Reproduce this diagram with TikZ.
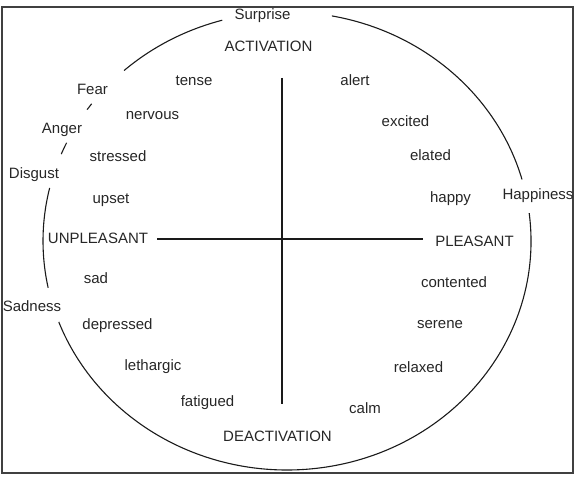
\documentclass[tikz,border=0pt]{standalone}
\usepackage{fontspec}
\setmainfont{Liberation Sans}
\usepackage{xcolor}
\usepackage{tikz}
\usetikzlibrary{positioning}
\definecolor{txtGray}{HTML}{262626}
\definecolor{lineGray}{HTML}{1A1A1A}

\begin{document}
\begin{tikzpicture}[x=1pt,y=1pt,
  word/.style={inner sep=0pt,anchor=base,text=txtGray,font=\fontsize{15}{18}\selectfont},
  emo/.style={word},
  axislab/.style={word},
  ring/.style={draw=lineGray,line width=1.1pt},
  axisline/.style={draw=lineGray,line width=1.1pt}]
  \useasboundingbox (0,0) rectangle (577,476);
  \draw[line width=1.6pt,draw=black!75] (2,3) rectangle (573,469);
  \coordinate (c) at (287,235);
  % the circle, broken at the basic emotions
  \foreach \a/\b in {79.4/15.6, 7/-159.3, 191.8/166.6, 157.7/154.6, 145/143.2, 131.9/105.4}
    \draw[ring] (c) ++(\a:244 and 229) arc[start angle=\a, end angle=\b, x radius=244, y radius=229];
  % axes
  \node[axislab] (act) at (268.5,424) {ACTIVATION};
  \node[axislab] (deact) at (277.5,35) {DEACTIVATION};
  \node[axislab] (unpl) at (98,232) {UNPLEASANT};
  \node[axislab] (pl) at (474.5,229) {PLEASANT};
  \coordinate (n) at (282,398);
  \coordinate (s) at (282,72);
  \coordinate (w) at (157,237);
  \coordinate (e) at (423,237);
  \draw[axisline] (n) -- (s);
  \draw[axisline] (w) -- (e);
  % basic emotions on the circle
  \node[emo] (surprise) at (262.5,456) {Surprise};
  \node[emo] (fear) at (92.5,381) {Fear};
  \node[emo] (anger) at (62,342) {Anger};
  \node[emo] (disgust) at (34,297) {Disgust};
  \node[emo] (sadness) at (32,164) {Sadness};
  \node[emo] (happiness) at (538,276) {Happiness};
  % moods
  \node[word] (tense) at (194,390) {tense};
  \node[word] (nervous) at (152.5,356) {nervous};
  \node[word] (stressed) at (118,314) {stressed};
  \node[word] (upset) at (111,272) {upset};
  \node[word] (sad) at (96,192) {sad};
  \node[word] (depressed) at (117.5,146) {depressed};
  \node[word] (lethargic) at (153,106) {lethargic};
  \node[word] (fatigued) at (207.5,70) {fatigued};
  \node[word] (alert) at (355,390) {alert};
  \node[word] (excited) at (405.5,349) {excited};
  \node[word] (elated) at (430.5,315) {elated};
  \node[word] (happy) at (450.5,273) {happy};
  \node[word] (contented) at (454,188) {contented};
  \node[word] (serene) at (440,147) {serene};
  \node[word] (relaxed) at (418.5,103) {relaxed};
  \node[word] (calm) at (365,63) {calm};
\end{tikzpicture}
\end{document}
